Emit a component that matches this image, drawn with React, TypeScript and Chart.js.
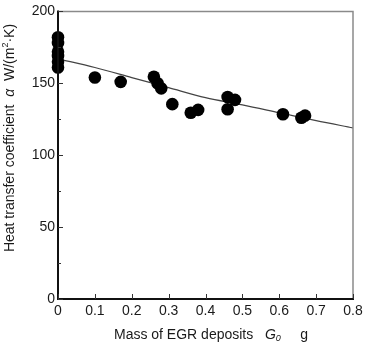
import React, { useEffect, useRef } from "react";
import { Chart, registerables } from "chart.js";

Chart.register(...registerables);

// measured points: mass of EGR deposits G0 (g) vs heat transfer coefficient alpha
const massG = [0, 0, 0, 0, 0, 0, 0.1, 0.17, 0.26, 0.27, 0.28, 0.31, 0.36, 0.38, 0.46, 0.48, 0.46, 0.61, 0.66, 0.67];
const alphaW = [182, 178, 172, 169, 165, 161, 154, 151, 154.5, 150, 146.5, 135.5, 129.5, 131.5, 140.5, 138.5, 132, 128.5, 126, 127.5];

// fitted trend curve
const fitG = [0, 0.1, 0.2, 0.3, 0.4, 0.5, 0.6, 0.7, 0.8];
const fitAlpha = [167, 161, 154, 147, 140, 135, 129.5, 124, 119];

const xTicks = [0, 0.1, 0.2, 0.3, 0.4, 0.5, 0.6, 0.7, 0.8];
const yTicks = [0, 50, 100, 150, 200];
const yMinorTicks = [25, 75, 125, 175];

const FONT = "Arial, 'Liberation Sans', sans-serif";
const TEXT = "#1a1a1a";
const FS = 14;

type Seg = { t: string; italic?: boolean; size?: number; dy?: number };

function drawSegs(ctx: CanvasRenderingContext2D, segs: Seg[], cx: number, cy: number) {
  const widths = segs.map((s) => {
    ctx.font = `${s.italic ? "italic " : ""}${s.size ?? FS}px ${FONT}`;
    return ctx.measureText(s.t).width;
  });
  const total = widths.reduce((a, b) => a + b, 0);
  let x = cx - total / 2;
  segs.forEach((s, i) => {
    ctx.font = `${s.italic ? "italic " : ""}${s.size ?? FS}px ${FONT}`;
    ctx.fillText(s.t, x, cy + (s.dy ?? 0));
    x += widths[i];
  });
}

const decorPlugin = {
  id: "decor",
  afterDraw(chart: any) {
    const ctx: CanvasRenderingContext2D = chart.ctx;
    const { left, right, top, bottom } = chart.chartArea;
    const xs = chart.scales.x;
    const ys = chart.scales.y;
    ctx.save();
    // top & right frame (gray)
    ctx.strokeStyle = "#8a8a8a";
    ctx.lineWidth = 1.5;
    ctx.beginPath();
    ctx.moveTo(left, top);
    ctx.lineTo(right, top);
    ctx.lineTo(right, bottom);
    ctx.stroke();
    // left & bottom axes (black)
    ctx.strokeStyle = "#111";
    ctx.lineWidth = 2;
    ctx.beginPath();
    ctx.moveTo(left, top - 1);
    ctx.lineTo(left, bottom);
    ctx.lineTo(right + 1, bottom);
    ctx.stroke();
    // ticks (inside)
    ctx.lineWidth = 1;
    ctx.strokeStyle = "#333";
    ctx.beginPath();
    yTicks.forEach((v) => {
      const y = Math.round(ys.getPixelForValue(v)) + 0.5;
      ctx.moveTo(left, y);
      ctx.lineTo(left + 5, y);
    });
    yMinorTicks.forEach((v) => {
      const y = Math.round(ys.getPixelForValue(v)) + 0.5;
      ctx.moveTo(left, y);
      ctx.lineTo(left + 3, y);
    });
    xTicks.forEach((v) => {
      const x = Math.round(xs.getPixelForValue(v)) + 0.5;
      ctx.moveTo(x, bottom);
      ctx.lineTo(x, bottom - 5);
    });
    ctx.stroke();

    // axis titles
    ctx.fillStyle = TEXT;
    ctx.textBaseline = "middle";
    ctx.textAlign = "left";
    drawSegs(
      ctx,
      [
        { t: "Mass of EGR deposits   " },
        { t: "G", italic: true },
        { t: "0", italic: true, size: 9, dy: 3 },
        { t: "     g" },
      ],
      211,
      335
    );
    ctx.save();
    ctx.translate(10, 138);
    ctx.rotate(-Math.PI / 2);
    drawSegs(
      ctx,
      [
        { t: "Heat transfer coefficient  " },
        { t: "α", italic: true },
        { t: "  W/(m" },
        { t: "2", size: 9, dy: -4 },
        { t: "·K)" },
      ],
      0,
      0
    );
    ctx.restore();
    ctx.restore();
  },
};

export default function App() {
  const ref = useRef<HTMLCanvasElement | null>(null);
  useEffect(() => {
    if (!ref.current) return;
    const chart = new Chart(ref.current, {
      type: "scatter",
      data: {
        datasets: [
          {
            type: "scatter",
            data: massG.map((g, i) => ({ x: g, y: alphaW[i] })),
            backgroundColor: "#000",
            borderColor: "#000",
            pointRadius: 6.3,
            pointHoverRadius: 6.3,
            borderWidth: 0,
            clip: false as any,
            order: 1,
          },
          {
            type: "line",
            data: fitG.map((g, i) => ({ x: g, y: fitAlpha[i] })),
            borderColor: "#444",
            borderWidth: 1.2,
            pointRadius: 0,
            tension: 0.4,
            cubicInterpolationMode: "monotone",
            fill: false,
            order: 2,
          } as any,
        ],
      },
      options: {
        animation: false,
        responsive: true,
        maintainAspectRatio: false,
        layout: { padding: { left: 0, right: 25, top: 5, bottom: 0 } },
        plugins: { legend: { display: false }, tooltip: { enabled: false } },
        scales: {
          x: {
            type: "linear",
            min: 0,
            max: 0.8,
            afterFit: (s: any) => {
              s.height = 48;
            },
            afterBuildTicks: (s: any) => {
              s.ticks = xTicks.map((v) => ({ value: v }));
            },
            grid: { display: false, drawTicks: false },
            border: { display: false },
            ticks: {
              padding: 4,
              color: TEXT,
              font: { family: FONT, size: FS },
              callback: (v: any) => (Number(v) === 0 ? "0" : Number(v).toFixed(1)),
            },
          },
          y: {
            type: "linear",
            min: 0,
            max: 200,
            afterFit: (s: any) => {
              s.width = 58;
            },
            afterBuildTicks: (s: any) => {
              s.ticks = yTicks.map((v) => ({ value: v }));
            },
            grid: { display: false, drawTicks: false },
            border: { display: false },
            ticks: {
              padding: 3,
              color: TEXT,
              font: { family: FONT, size: FS },
              callback: (v: any) => String(v),
            },
          },
        },
      },
      plugins: [decorPlugin],
    });
    return () => chart.destroy();
  }, []);
  return (
    <div style={{ position: "absolute", left: 0, top: 0, width: 378, height: 347, background: "#fff" }}>
      <canvas ref={ref} />
    </div>
  );
}
